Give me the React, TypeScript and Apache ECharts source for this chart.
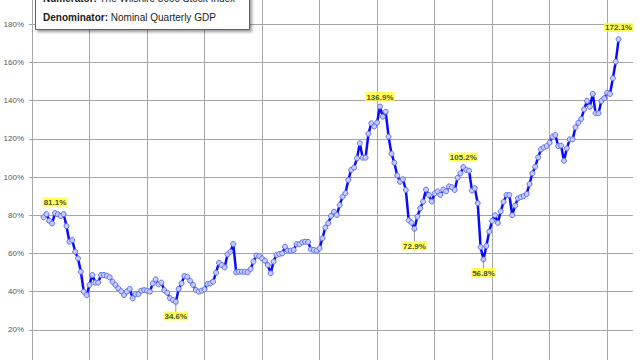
import React, { useEffect, useRef } from "react";
import * as echarts from "echarts";

// Quarterly observations, first one plotted at 1971.0, one step per quarter
const START_YEAR = 1971;
const QUARTER_STEP = 0.25;

const RATIO_1970S = [
  78.9, 80.6, 77.1, 75.7, 81.1, 80.5, 79.6, 80.6, 74.3, 66.1, 67.0, 60.9,
  57.4, 50.4, 40.0, 38.2, 43.5, 48.7, 44.7, 44.7, 48.7, 48.7, 48.3, 47.5,
  45.2, 43.5, 41.7, 40.2, 38.2, 40.0, 41.4, 36.5, 38.7, 38.7, 40.5, 40.8,
];
const RATIO_1980S = [
  40.5, 40.0, 44.3, 46.4, 43.8, 44.7, 40.8, 39.4, 36.5, 35.6, 34.6, 41.4,
  44.3, 48.2, 47.8, 45.7, 43.5, 40.8, 40.0, 40.5, 41.2, 44.0, 44.3, 45.2,
  49.9, 55.1, 53.9, 52.7, 59.5, 60.9, 64.9, 50.1, 50.4, 50.4, 50.4, 50.1,
  51.8, 55.7, 58.9, 58.6,
];
const RATIO_1990S = [
  57.4, 56.2, 53.9, 49.6, 55.7, 59.2, 59.7, 60.0, 63.5, 61.4, 61.4, 61.8,
  64.9, 64.9, 65.8, 66.1, 66.0, 62.1, 61.8, 61.4, 62.7, 67.9, 73.5, 75.8,
  79.6, 81.8, 80.1, 85.3, 89.7, 91.5, 98.4, 103.7, 104.9, 109.8, 117.6, 110.1,
  110.1, 122.6, 128.1, 126.5,
];
const RATIO_2000S = [
  128.5, 136.9, 131.6, 134.2, 121.1, 112.2, 107.5, 100.8, 97.5, 98.8, 93.2, 77.3,
  76.1, 72.9, 79.2, 83.6, 87.1, 93.4, 90.6, 87.2, 91.4, 92.5, 90.6, 93.4,
  92.5, 95.1, 94.7, 93.2, 99.6, 101.9, 105.2, 103.7, 103.3, 92.9, 94.1, 86.3,
  63.3, 56.8, 63.9, 71.4,
];
const RATIO_2010S = [
  77.0, 80.0, 76.0, 82.0, 87.0, 90.6, 90.6, 80.0, 85.0, 88.8, 89.5, 90.0,
  91.1, 96.3, 101.9, 105.4, 110.3, 114.5, 115.5, 116.2, 118.0, 121.1, 122.0, 116.2,
  116.4, 108.5, 115.0, 119.7, 119.7, 126.0, 128.4, 130.4, 135.4, 139.8, 136.8, 143.5,
  133.4, 133.4, 139.8, 141.2,
];
const RATIO_2020S = [144.1, 143.5, 151.7, 160.4, 172.1];

const RATIO = [
  ...RATIO_1970S,
  ...RATIO_1980S,
  ...RATIO_1990S,
  ...RATIO_2000S,
  ...RATIO_2010S,
  ...RATIO_2020S,
];

// Indices of the annotated highs / lows
const ANNOTATED_INDEX = [4, 46, 117, 129, 146, 153, 200];

const X_MIN = 1970;
const X_MAX = 2022.25;
const X_STEP = 5;
const Y_MIN = 0;
const Y_MAX = 200;
const Y_STEP = 20;

const LEGEND_LINES = [
  { bold: "Numerator:", rest: " The Wilshire 5000 Stock Index" },
  { bold: "Denominator:", rest: " Nominal Quarterly GDP" },
];

// styling for annotation labels: position and distance
const ANNOT_STYLE: Record<number, { pos: "top" | "bottom"; dist: number }> = {
  4: { pos: "top", dist: 6 },
  46: { pos: "bottom", dist: 9 },
  117: { pos: "top", dist: 5 },
  129: { pos: "bottom", dist: 12 },
  146: { pos: "top", dist: 5 },
  153: { pos: "bottom", dist: 8 },
  200: { pos: "top", dist: 7 },
};

const FONT = "Liberation Sans, Arial, sans-serif";
// the chart canvas extends above the visible page so the plot top is cropped
const SHIFT = 20;

export default function App() {
  const ref = useRef<HTMLDivElement>(null);

  useEffect(() => {
    if (!ref.current) return;
    const chart = echarts.init(ref.current, undefined, { renderer: "svg" });

    const lineData = RATIO.map((v, i) => [START_YEAR + i * QUARTER_STEP, v]);

    const annotData = ANNOTATED_INDEX.map((idx) => {
      const st = ANNOT_STYLE[idx];
      return {
        value: lineData[idx],
        label: { position: st.pos, distance: st.dist },
      };
    });

    const leaderData = ANNOTATED_INDEX.filter(
      (idx) => ANNOT_STYLE[idx].pos === "bottom"
    ).map((idx) => {
      const st = ANNOT_STYLE[idx];
      return {
        value: lineData[idx],
        symbolSize: [1, st.dist],
        symbolOffset: [0, st.dist / 2 + 1],
      };
    });

    chart.setOption({
      animation: false,
      backgroundColor: "#ffffff",
      grid: { left: 32, right: 7, top: 6, bottom: 12, containLabel: false },
      xAxis: {
        type: "value",
        min: X_MIN,
        max: X_MAX,
        interval: X_STEP,
        axisLine: { show: false },
        axisTick: { show: false },
        axisLabel: { show: false },
        splitLine: {
          show: true,
          showMaxLine: false,
          lineStyle: { color: "#a6a6a6", width: 1 },
        },
      },
      yAxis: {
        type: "value",
        min: Y_MIN,
        max: Y_MAX,
        interval: Y_STEP,
        axisLine: { show: true, lineStyle: { color: "#a6a6a6", width: 1 } },
        axisTick: { show: true, length: 3, lineStyle: { color: "#a6a6a6" } },
        axisLabel: {
          formatter: "{value}%",
          fontSize: 8,
          color: "#595959",
          fontFamily: FONT,
          margin: 8,
          showMinLabel: false,
          showMaxLabel: false,
        },
        splitLine: { show: true, lineStyle: { color: "#a6a6a6", width: 1 } },
      },
      graphic: [
        {
          type: "rect",
          z: 100,
          shape: { x: 35.5, y: SHIFT - 20.5, width: 214, height: 50 },
          style: {
            fill: "#ffffff",
            stroke: "#606060",
            lineWidth: 1,
            shadowBlur: 3,
            shadowOffsetX: 2,
            shadowOffsetY: 2,
            shadowColor: "rgba(0,0,0,0.4)",
          },
        },
        ...LEGEND_LINES.map((ln, k) => ({
          type: "text",
          z: 101,
          x: 43,
          y: SHIFT - 2 + k * 19,
          style: {
            text: `{b|${ln.bold}}{r|${ln.rest}}`,
            verticalAlign: "middle",
            rich: {
              b: { fontWeight: "bold", fontSize: 10, fontFamily: FONT, fill: "#1a1a1a" },
              r: { fontSize: 10, fontFamily: FONT, fill: "#1a1a1a" },
            },
          },
        })),
      ],
      series: [
        {
          type: "line",
          data: lineData,
          symbol: "circle",
          symbolSize: 5,
          showAllSymbol: true,
          lineStyle: { color: "#0a0aff", width: 2.5 },
          itemStyle: { color: "#c4ccff", borderColor: "#5f6ff5", borderWidth: 1 },
          z: 3,
        },
        {
          type: "scatter",
          data: leaderData,
          symbol: "rect",
          itemStyle: { color: "#7f7f7f" },
          z: 4,
        },
        {
          type: "scatter",
          data: annotData,
          symbolSize: 1,
          itemStyle: { color: "rgba(0,0,0,0)" },
          z: 5,
          label: {
            show: true,
            formatter: (p: any) => `${p.value[1].toFixed(1)}%`,
            fontSize: 8,
            fontWeight: "bold",
            fontFamily: FONT,
            color: "#1a1a1a",
            backgroundColor: "#ffff33",
            padding: [1, 1, 0, 1],
          },
        },
      ],
    });

    return () => chart.dispose();
  }, []);

  return (
    <div
      ref={ref}
      style={{ position: "fixed", left: 0, top: -SHIFT, width: 640, height: 400 }}
    />
  );
}
